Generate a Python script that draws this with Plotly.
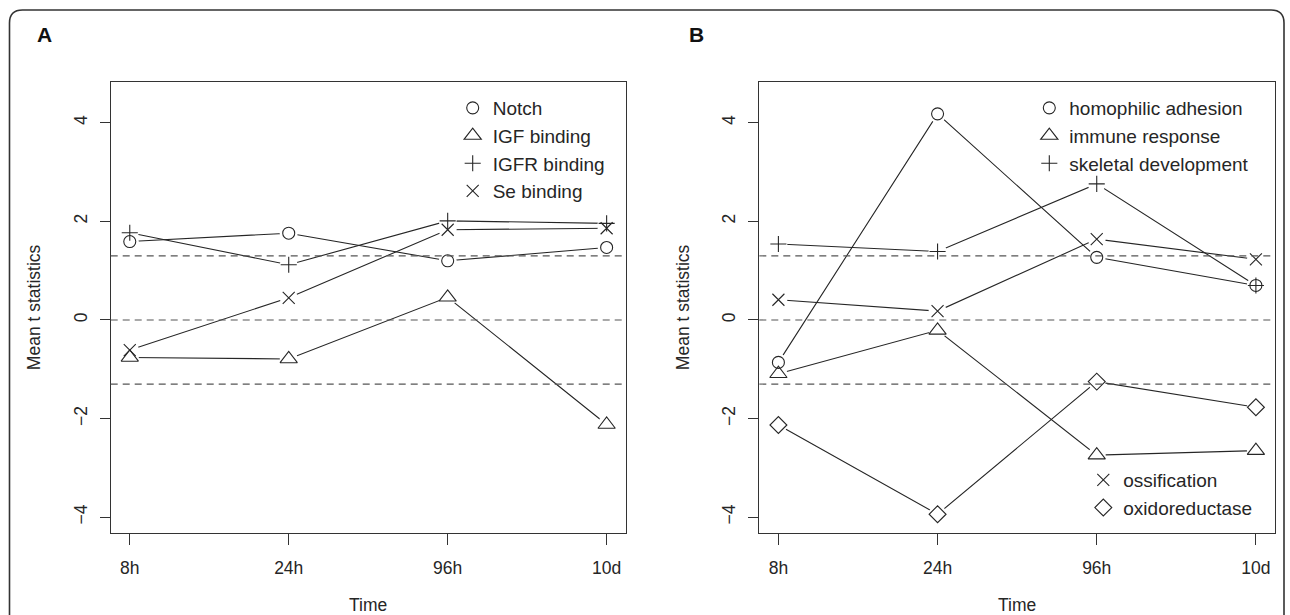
import plotly.graph_objects as go

# ---------------- data ----------------
times = ["8h", "24h", "96h", "10d"]

# Panel A
notch = [1.59, 1.76, 1.20, 1.47]
igf_binding = [-0.76, -0.79, 0.46, -2.12]
igfr_binding = [1.77, 1.12, 2.01, 1.96]
se_binding = [-0.61, 0.45, 1.83, 1.86]

# Panel B
homophilic_adhesion = [-0.86, 4.18, 1.27, 0.70]
immune_response = [-1.09, -0.21, -2.74, -2.65]
skeletal_development = [1.54, 1.39, 2.76, 0.70]
ossification = [0.41, 0.18, 1.64, 1.23]
oxidoreductase = [-2.13, -3.94, -1.25, -1.77]

thresholds = [-1.3, 0.0, 1.3]
y_ticks = [-4, -2, 0, 2, 4]

# ---------------- styling ----------------
W, H = 1290, 615
FONT = "Liberation Sans, Arial, Helvetica, sans-serif"
INK = "#262626"
SYM = {
    "circle": ("circle-open", 12),
    "triangle": ("triangle-up-open", 15),
    "plus": ("cross-thin-open", 11.5),
    "x": ("x-thin-open", 12),
    "diamond": ("diamond-open", 13),
}

series = [
    # name, values, symbol, panel, legend
    ("Notch", notch, "circle", 1, "legend"),
    ("IGF binding", igf_binding, "triangle", 1, "legend"),
    ("IGFR binding", igfr_binding, "plus", 1, "legend"),
    ("Se binding", se_binding, "x", 1, "legend"),
    ("homophilic adhesion", homophilic_adhesion, "circle", 2, "legend2"),
    ("immune response", immune_response, "triangle", 2, "legend2"),
    ("skeletal development", skeletal_development, "plus", 2, "legend2"),
    ("ossification", ossification, "x", 2, "legend3"),
    ("oxidoreductase", oxidoreductase, "diamond", 2, "legend3"),
]


def px_x(p):
    return p / W


def px_y(p):
    return 1 - p / H


fig = go.Figure()

# connecting lines
for name, vals, sym, panel, leg in series:
    ax = "" if panel == 1 else "2"
    fig.add_trace(go.Scatter(
        x=times, y=vals, mode="lines", xaxis="x" + ax, yaxis="y" + ax,
        line=dict(color=INK, width=1.1), showlegend=False, hoverinfo="skip"))

# white gaps around points (R type="b")
for name, vals, sym, panel, leg in series:
    ax = "" if panel == 1 else "2"
    fig.add_trace(go.Scatter(
        x=times, y=vals, mode="markers", xaxis="x" + ax, yaxis="y" + ax,
        marker=dict(symbol="circle", size=18, color="white", line=dict(width=0)),
        showlegend=False, hoverinfo="skip"))

# point symbols
for name, vals, sym, panel, leg in series:
    ax = "" if panel == 1 else "2"
    s, size = SYM[sym]
    fig.add_trace(go.Scatter(
        x=times, y=vals, mode="markers", name=name, xaxis="x" + ax, yaxis="y" + ax,
        marker=dict(symbol=s, size=size, color=INK, line=dict(color=INK, width=1.1)),
        legend=leg, showlegend=True))

# dashed reference lines
for ax in ["", "2"]:
    for t in thresholds:
        fig.add_shape(type="line", xref=("x" + ax + " domain"), yref="y" + ax,
                      x0=0, x1=1, y0=t, y1=t, layer="above",
                      line=dict(color="#555555", width=1.1, dash="7px,5px"))

# outer rounded frame
l, t_, r, b, rad = 9.5, 10.0, 1284.0, 660.0, 13.0
path = (f"M {px_x(l)},{px_y(t_ + rad)} "
        f"Q {px_x(l)},{px_y(t_)} {px_x(l + rad)},{px_y(t_)} "
        f"L {px_x(r - rad)},{px_y(t_)} "
        f"Q {px_x(r)},{px_y(t_)} {px_x(r)},{px_y(t_ + rad)} "
        f"L {px_x(r)},{px_y(b)} L {px_x(l)},{px_y(b)} Z")
fig.add_shape(type="path", xref="paper", yref="paper", path=path,
              line=dict(color="#333333", width=1.6), layer="above")

# axes
y_dom = [px_y(532.5), px_y(82.3)]
common_x = dict(
    type="category", range=[-0.12, 3.12], showgrid=False, zeroline=False,
    showline=True, mirror=True, linecolor="#333333", linewidth=1.1,
    ticks="outside", ticklen=11, tickcolor="#333333", tickwidth=1,
    ticklabelstandoff=8,
    tickfont=dict(family=FONT, size=17.5, color=INK),
    title=dict(text="Time", font=dict(family=FONT, size=17.5, color=INK), standoff=22),
)
common_y = dict(
    range=[-4.31, 4.82], tickvals=y_ticks, showgrid=False, zeroline=False,
    showline=True, mirror=True, linecolor="#333333", linewidth=1.1,
    ticks="outside", ticklen=10, tickcolor="#333333", tickwidth=1, tickangle=-90,
    ticklabelstandoff=6,
    tickfont=dict(family=FONT, size=17.5, color=INK),
    title=dict(text="Mean t statistics", font=dict(family=FONT, size=17.5, color=INK), standoff=25),
    domain=y_dom,
)

legend_common = dict(
    bgcolor="rgba(0,0,0,0)", borderwidth=0, xanchor="left", yanchor="top",
    font=dict(family=FONT, size=19, color=INK), itemsizing="trace",
    tracegroupgap=0,
)

fig.update_layout(
    width=W, height=H, margin=dict(l=0, r=0, t=0, b=0),
    paper_bgcolor="white", plot_bgcolor="white",
    font=dict(family=FONT, color=INK),
    xaxis=dict(common_x, domain=[px_x(110.7), px_x(625.7)], anchor="y"),
    yaxis=dict(common_y, anchor="x"),
    xaxis2=dict(common_x, domain=[px_x(759.3), px_x(1275.0)], anchor="y2"),
    yaxis2=dict(common_y, anchor="x2"),
    legend=dict(legend_common, x=px_x(452.7), y=px_y(89)),
    legend2=dict(legend_common, x=px_x(1029.3), y=px_y(89)),
    legend3=dict(legend_common, x=px_x(1083.3), y=px_y(461)),
    annotations=[
        dict(text="<b>A</b>", x=px_x(35), y=px_y(34.5), xref="paper", yref="paper",
             xanchor="left", yanchor="middle", showarrow=False,
             font=dict(family=FONT, size=21, color="#111111")),
        dict(text="<b>B</b>", x=px_x(687), y=px_y(34.5), xref="paper", yref="paper",
             xanchor="left", yanchor="middle", showarrow=False,
             font=dict(family=FONT, size=21, color="#111111")),
    ],
)

fig.write_html(
    "out.html",
    config={"displayModeBar": False},
    post_script="document.body.style.margin='0px';document.body.style.overflow='hidden';",
)
